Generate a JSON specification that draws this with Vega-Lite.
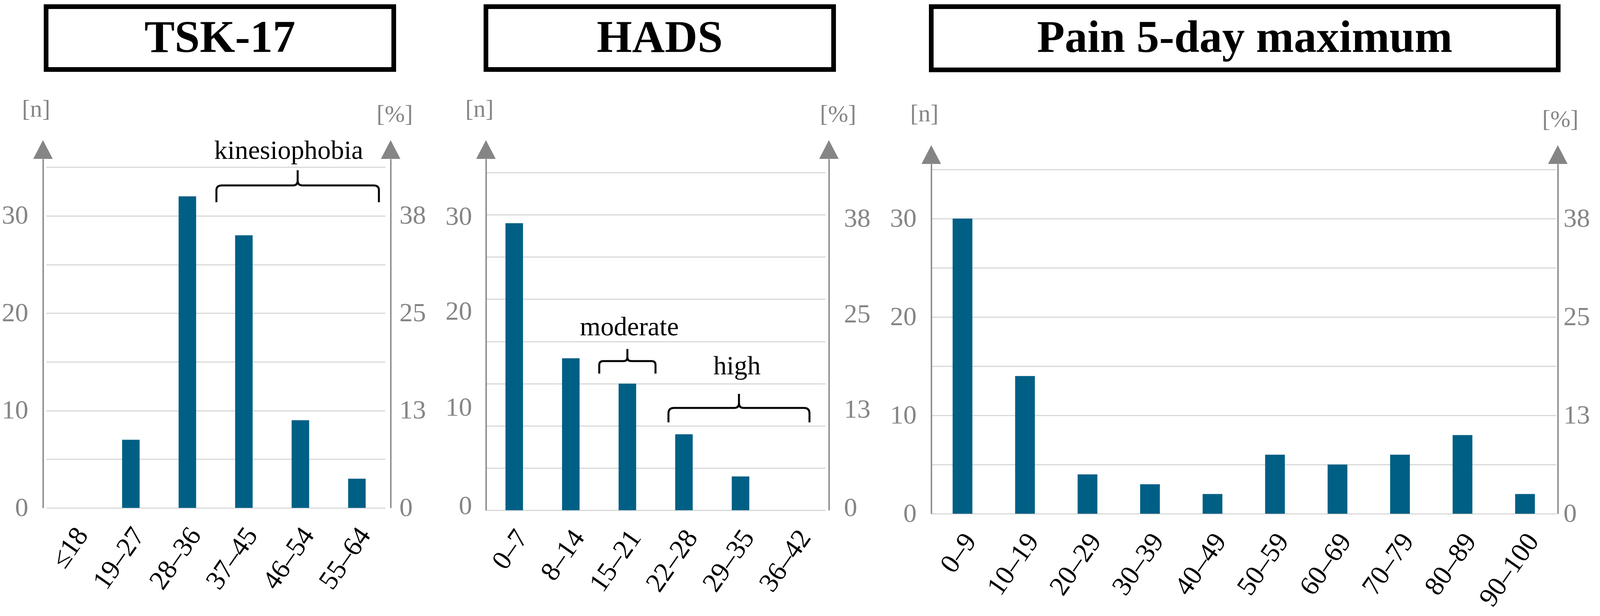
{
  "$schema": "https://vega.github.io/schema/vega-lite/v6.json",
  "padding": {"left": 4, "top": 11, "right": 0, "bottom": 5},
  "background": "white",
  "config": {
    "font": "Liberation Serif",
    "view": {"stroke": null}
  },
  "datasets": {
    "tsk": [
      {"range": "≤18", "n": 0},
      {"range": "19–27", "n": 7},
      {"range": "28–36", "n": 32},
      {"range": "37–45", "n": 28},
      {"range": "46–54", "n": 9},
      {"range": "55–64", "n": 3}
    ],
    "hads": [
      {"range": "0–7", "n": 34},
      {"range": "8–14", "n": 18},
      {"range": "15–21", "n": 15},
      {"range": "22–28", "n": 9},
      {"range": "29–35", "n": 4},
      {"range": "36–42", "n": 0}
    ],
    "pain": [
      {"range": "0–9", "n": 30},
      {"range": "10–19", "n": 14},
      {"range": "20–29", "n": 4},
      {"range": "30–39", "n": 3},
      {"range": "40–49", "n": 2},
      {"range": "50–59", "n": 6},
      {"range": "60–69", "n": 5},
      {"range": "70–79", "n": 6},
      {"range": "80–89", "n": 8},
      {"range": "90–100", "n": 2}
    ]
  },
  "spacing": 50,
  "hconcat": [
    {
      "spacing": 64,
      "vconcat": [
        {
          "width": 890, "height": 161,
          "view": {"stroke": "#000000", "strokeWidth": 12, "fill": "#ffffff"},
          "data": {"values": [{"t": "TSK-17"}]},
          "mark": {"type": "text", "fontSize": 116, "fontWeight": "bold", "color": "#000000", "baseline": "middle"},
          "encoding": {"text": {"field": "t"}}
        },
        {
          "width": 868, "height": 894,
          "data": {"name": "tsk"},
          "layer": [
            {
              "mark": {"type": "bar", "color": "#005F85"},
              "encoding": {
                "x": {"field": "range", "type": "nominal", "sort": null,
                  "scale": {"domain": ["≤18", "19–27", "28–36", "37–45", "46–54", "55–64"], "paddingInner": 0.69, "paddingOuter": 0.345},
                  "axis": null},
                "y": {"field": "n", "type": "quantitative", "scale": {"domain": [0, 35.85], "nice": false},
                  "axis": {"orient": "left", "offset": 8, "values": [0, 10, 20, 30], "grid": false, "ticks": false, "domain": true, "domainColor": "#858585", "domainWidth": 3.5, "labelFontSize": 68, "labelColor": "#858585", "labelPadding": 38, "title": "[n]", "titleAngle": 0, "titleX": -18, "titleY": -128, "titleAlign": "center", "titleBaseline": "middle", "titleFontSize": 62, "titleFontWeight": "normal", "titleColor": "#858585"}}
              }
            },
            {
              "mark": {"type": "text", "angle": 305, "align": "right", "baseline": "middle", "fontSize": 70, "color": "#000000", "dx": -36, "dy": 50},
              "encoding": {
                "x": {"field": "range", "type": "nominal", "sort": null, "scale": {"domain": ["≤18", "19–27", "28–36", "37–45", "46–54", "55–64"], "paddingInner": 0.69, "paddingOuter": 0.345}, "axis": null},
                "y": {"datum": 0, "type": "quantitative", "scale": {"domain": [0, 35.85], "nice": false}, "axis": null},
                "text": {"field": "range"}
              }
            },
            {
              "data": {"values": [{}]},
              "mark": {"type": "point", "shape": "M-1,0L1,0L0,-1.92Z", "size": 2500, "filled": true, "color": "#858585", "opacity": 1},
              "encoding": {
                "x": {"datum": "≤18", "type": "nominal", "bandPosition": -1.291, "scale": {"domain": ["≤18", "19–27", "28–36", "37–45", "46–54", "55–64"], "paddingInner": 0.69, "paddingOuter": 0.345}, "axis": null},
                "y": {"datum": 35.85, "type": "quantitative", "scale": {"domain": [0, 35.85], "nice": false},
                  "axis": {"orient": "left", "values": [0, 5, 10, 15, 20, 25, 30, 35], "grid": true, "gridColor": "#D9D9D9", "gridWidth": 3, "ticks": false, "labels": false, "domain": false, "title": null}}
              }
            },
            {
              "data": {"values": [{}]},
              "mark": {"type": "point", "shape": "M-1,0L1,0L0,-1.92Z", "size": 2500, "filled": true, "color": "#858585", "opacity": 1},
              "encoding": {
                "x": {"datum": "55–64", "type": "nominal", "bandPosition": 2.425, "scale": {"domain": ["≤18", "19–27", "28–36", "37–45", "46–54", "55–64"], "paddingInner": 0.69, "paddingOuter": 0.345}, "axis": null},
                "y": {"datum": 35.85, "type": "quantitative", "scale": {"domain": [0, 35.85], "nice": false},
                  "axis": {"orient": "right", "offset": 14, "values": [0, 10, 20, 30], "labelExpr": "datum.value == 10 ? '13' : datum.value == 20 ? '25' : datum.value == 30 ? '38' : '0'", "grid": false, "ticks": false, "domain": true, "domainColor": "#858585", "domainWidth": 3.5, "labelFontSize": 68, "labelColor": "#858585", "labelPadding": 22, "title": "[%]", "titleAngle": 0, "titleX": 10, "titleY": -115, "titleAlign": "center", "titleBaseline": "middle", "titleFontSize": 62, "titleFontWeight": "normal", "titleColor": "#858585"}}
              }
            },
            {
              "data": {"values": [{"label": "kinesiophobia"}]},
              "mark": {"type": "text", "fontSize": 68, "color": "#000000", "baseline": "alphabetic", "dx": -30},
              "encoding": {
                "x": {"datum": "46–54", "type": "nominal", "scale": {"domain": ["≤18", "19–27", "28–36", "37–45", "46–54", "55–64"], "paddingInner": 0.69, "paddingOuter": 0.345}, "axis": null},
                "y": {"datum": 35.85, "type": "quantitative", "scale": {"domain": [0, 35.85], "nice": false}, "axis": null},
                "text": {"field": "label"}
              }
            },
            {
              "data": {"values": [{}]},
              "mark": {"type": "point", "shape": "M-1,0.2067L-1,0.0577Q-1,0,-0.9327,0L-0.0577,0Q0,0,0,-0.0577L0,-0.1875M0,-0.0577Q0,0,0.0577,0L0.9327,0Q1,0,1,0.0577L1,0.2067", "size": 173056, "filled": false, "color": "#000000", "strokeWidth": 5, "opacity": 1},
              "encoding": {
                "x": {"datum": "46–54", "type": "nominal", "bandPosition": 0.344, "scale": {"domain": ["≤18", "19–27", "28–36", "37–45", "46–54", "55–64"], "paddingInner": 0.69, "paddingOuter": 0.345}, "axis": null},
                "y": {"datum": 33.12, "type": "quantitative", "scale": {"domain": [0, 35.85], "nice": false}, "axis": null}
              }
            }
          ],
          "resolve": {"axis": {"y": "independent"}}
        }
      ]
    },
    {
      "spacing": 64,
      "vconcat": [
        {
          "width": 890, "height": 161,
          "view": {"stroke": "#000000", "strokeWidth": 12, "fill": "#ffffff"},
          "data": {"values": [{"t": "HADS"}]},
          "mark": {"type": "text", "fontSize": 116, "fontWeight": "bold", "color": "#000000", "baseline": "middle"},
          "encoding": {"text": {"field": "t"}}
        },
        {
          "width": 869, "height": 900,
          "data": {"name": "hads"},
          "layer": [
            {
              "mark": {"type": "bar", "color": "#005F85"},
              "encoding": {
                "x": {"field": "range", "type": "nominal", "sort": null,
                  "scale": {"domain": ["0–7", "8–14", "15–21", "22–28", "29–35", "36–42"], "paddingInner": 0.69, "paddingOuter": 0.345},
                  "axis": null},
                "y": {"field": "n", "type": "quantitative", "scale": {"domain": [0, 41.62], "nice": false},
                  "axis": {"orient": "left", "values": [0.5, 12.15, 23.5, 34.75], "labelExpr": "datum.value < 1 ? '0' : datum.value < 13 ? '10' : datum.value < 24 ? '20' : '30'", "grid": false, "ticks": false, "domain": true, "domainColor": "#858585", "domainWidth": 3.5, "labelFontSize": 68, "labelColor": "#858585", "labelPadding": 36, "title": "[n]", "titleAngle": 0, "titleX": -17, "titleY": -128, "titleAlign": "center", "titleBaseline": "middle", "titleFontSize": 62, "titleFontWeight": "normal", "titleColor": "#858585"}}
              }
            },
            {
              "mark": {"type": "text", "angle": 305, "align": "right", "baseline": "middle", "fontSize": 70, "color": "#000000", "dx": -36, "dy": 50},
              "encoding": {
                "x": {"field": "range", "type": "nominal", "sort": null, "scale": {"domain": ["0–7", "8–14", "15–21", "22–28", "29–35", "36–42"], "paddingInner": 0.69, "paddingOuter": 0.345}, "axis": null},
                "y": {"datum": 0, "type": "quantitative", "scale": {"domain": [0, 41.62], "nice": false}, "axis": null},
                "text": {"field": "range"}
              }
            },
            {
              "data": {"values": [{}]},
              "mark": {"type": "point", "shape": "M-1,0L1,0L0,-1.92Z", "size": 2500, "filled": true, "color": "#858585", "opacity": 1},
              "encoding": {
                "x": {"datum": "0–7", "type": "nominal", "bandPosition": -1.1129, "scale": {"domain": ["0–7", "8–14", "15–21", "22–28", "29–35", "36–42"], "paddingInner": 0.69, "paddingOuter": 0.345}, "axis": null},
                "y": {"datum": 41.62, "type": "quantitative", "scale": {"domain": [0, 41.62], "nice": false},
                  "axis": {"orient": "left", "values": [0, 5, 10, 15, 20, 25, 30, 35, 40], "grid": true, "gridColor": "#D9D9D9", "gridWidth": 3, "ticks": false, "labels": false, "domain": false, "title": null}}
              }
            },
            {
              "data": {"values": [{}]},
              "mark": {"type": "point", "shape": "M-1,0L1,0L0,-1.92Z", "size": 2500, "filled": true, "color": "#858585", "opacity": 1},
              "encoding": {
                "x": {"datum": "36–42", "type": "nominal", "bandPosition": 2.313, "scale": {"domain": ["0–7", "8–14", "15–21", "22–28", "29–35", "36–42"], "paddingInner": 0.69, "paddingOuter": 0.345}, "axis": null},
                "y": {"datum": 41.62, "type": "quantitative", "scale": {"domain": [0, 41.62], "nice": false},
                  "axis": {"orient": "right", "offset": 9, "values": [0.25, 11.9, 23.2, 34.5], "labelExpr": "datum.value < 1 ? '0' : datum.value < 13 ? '13' : datum.value < 24 ? '25' : '38'", "grid": false, "ticks": false, "domain": true, "domainColor": "#858585", "domainWidth": 3.5, "labelFontSize": 68, "labelColor": "#858585", "labelPadding": 38, "title": "[%]", "titleAngle": 0, "titleX": 23, "titleY": -115, "titleAlign": "center", "titleBaseline": "middle", "titleFontSize": 62, "titleFontWeight": "normal", "titleColor": "#858585"}}
              }
            },
            {
              "data": {"values": [{"label": "moderate"}]},
              "mark": {"type": "text", "fontSize": 68, "color": "#000000", "baseline": "alphabetic", "dx": 5},
              "encoding": {
                "x": {"datum": "15–21", "type": "nominal", "scale": {"domain": ["0–7", "8–14", "15–21", "22–28", "29–35", "36–42"], "paddingInner": 0.69, "paddingOuter": 0.345}, "axis": null},
                "y": {"datum": 20.72, "type": "quantitative", "scale": {"domain": [0, 41.62], "nice": false}, "axis": null},
                "text": {"field": "label"}
              }
            },
            {
              "data": {"values": [{"label": "high"}]},
              "mark": {"type": "text", "fontSize": 68, "color": "#000000", "baseline": "alphabetic", "dx": -9},
              "encoding": {
                "x": {"datum": "29–35", "type": "nominal", "scale": {"domain": ["0–7", "8–14", "15–21", "22–28", "29–35", "36–42"], "paddingInner": 0.69, "paddingOuter": 0.345}, "axis": null},
                "y": {"datum": 16.09, "type": "quantitative", "scale": {"domain": [0, 41.62], "nice": false}, "axis": null},
                "text": {"field": "label"}
              }
            },
            {
              "data": {"values": [{}]},
              "mark": {"type": "point", "shape": "M-1,0.4444L-1,0.1389Q-1,0,-0.8611,0L-0.1389,0Q0,0,0,-0.1389L0,-0.4306M0,-0.1389Q0,0,0.1389,0L0.8611,0Q1,0,1,0.1389L1,0.4444", "size": 20736, "filled": false, "color": "#000000", "strokeWidth": 5, "opacity": 1},
              "encoding": {
                "x": {"datum": "15–21", "type": "nominal", "scale": {"domain": ["0–7", "8–14", "15–21", "22–28", "29–35", "36–42"], "paddingInner": 0.69, "paddingOuter": 0.345}, "axis": null},
                "y": {"datum": 17.66, "type": "quantitative", "scale": {"domain": [0, 41.62], "nice": false}, "axis": null}
              }
            },
            {
              "data": {"values": [{}]},
              "mark": {"type": "point", "shape": "M-1,0.205L-1,0.0776Q-1,0,-0.9224,0L-0.0665,0Q0,0,0,-0.0665L0,-0.1994M0,-0.0665Q0,0,0.0665,0L0.9224,0Q1,0,1,0.0776L1,0.205", "size": 130321, "filled": false, "color": "#000000", "strokeWidth": 5, "opacity": 1},
              "encoding": {
                "x": {"datum": "29–35", "type": "nominal", "bandPosition": 0.411, "scale": {"domain": ["0–7", "8–14", "15–21", "22–28", "29–35", "36–42"], "paddingInner": 0.69, "paddingOuter": 0.345}, "axis": null},
                "y": {"datum": 12.12, "type": "quantitative", "scale": {"domain": [0, 41.62], "nice": false}, "axis": null}
              }
            }
          ],
          "resolve": {"axis": {"y": "independent"}}
        }
      ]
    },
    {
      "spacing": 75,
      "vconcat": [
        {
          "width": 1605, "height": 162,
          "view": {"stroke": "#000000", "strokeWidth": 12, "fill": "#ffffff"},
          "data": {"values": [{"t": "Pain 5-day maximum"}]},
          "mark": {"type": "text", "fontSize": 116, "fontWeight": "bold", "color": "#000000", "baseline": "middle"},
          "encoding": {"text": {"field": "t"}}
        },
        {
          "width": 1600, "height": 896,
          "data": {"name": "pain"},
          "layer": [
            {
              "mark": {"type": "bar", "color": "#005F85"},
              "encoding": {
                "x": {"field": "range", "type": "nominal", "sort": null,
                  "scale": {"domain": ["0–9", "10–19", "20–29", "30–39", "40–49", "50–59", "60–69", "70–79", "80–89", "90–100"], "paddingInner": 0.684, "paddingOuter": 0.342},
                  "axis": null},
                "y": {"field": "n", "type": "quantitative", "scale": {"domain": [0, 35.56], "nice": false},
                  "axis": {"orient": "left", "values": [0, 10, 20, 30], "grid": false, "ticks": false, "domain": true, "domainColor": "#858585", "domainWidth": 3.5, "labelFontSize": 68, "labelColor": "#858585", "labelPadding": 38, "title": "[n]", "titleAngle": 0, "titleX": -18, "titleY": -129, "titleAlign": "center", "titleBaseline": "middle", "titleFontSize": 62, "titleFontWeight": "normal", "titleColor": "#858585"}}
              }
            },
            {
              "mark": {"type": "text", "angle": 305, "align": "right", "baseline": "middle", "fontSize": 70, "color": "#000000", "dx": -36, "dy": 50},
              "encoding": {
                "x": {"field": "range", "type": "nominal", "sort": null, "scale": {"domain": ["0–9", "10–19", "20–29", "30–39", "40–49", "50–59", "60–69", "70–79", "80–89", "90–100"], "paddingInner": 0.684, "paddingOuter": 0.342}, "axis": null},
                "y": {"datum": 0, "type": "quantitative", "scale": {"domain": [0, 35.56], "nice": false}, "axis": null},
                "text": {"field": "range"}
              }
            },
            {
              "data": {"values": [{}]},
              "mark": {"type": "point", "shape": "M-1,0L1,0L0,-1.92Z", "size": 2500, "filled": true, "color": "#858585", "opacity": 1},
              "encoding": {
                "x": {"datum": "0–9", "type": "nominal", "bandPosition": -1.0818, "scale": {"domain": ["0–9", "10–19", "20–29", "30–39", "40–49", "50–59", "60–69", "70–79", "80–89", "90–100"], "paddingInner": 0.684, "paddingOuter": 0.342}, "axis": null},
                "y": {"datum": 35.56, "type": "quantitative", "scale": {"domain": [0, 35.56], "nice": false},
                  "axis": {"orient": "left", "values": [0, 5, 10, 15, 20, 25, 30, 35], "grid": true, "gridColor": "#D9D9D9", "gridWidth": 3, "ticks": false, "labels": false, "domain": false, "title": null}}
              }
            },
            {
              "data": {"values": [{}]},
              "mark": {"type": "point", "shape": "M-1,0L1,0L0,-1.92Z", "size": 2500, "filled": true, "color": "#858585", "opacity": 1},
              "encoding": {
                "x": {"datum": "90–100", "type": "nominal", "bandPosition": 2.161, "scale": {"domain": ["0–9", "10–19", "20–29", "30–39", "40–49", "50–59", "60–69", "70–79", "80–89", "90–100"], "paddingInner": 0.684, "paddingOuter": 0.342}, "axis": null},
                "y": {"datum": 35.56, "type": "quantitative", "scale": {"domain": [0, 35.56], "nice": false},
                  "axis": {"orient": "right", "offset": 4, "values": [0, 10, 20, 30], "labelExpr": "datum.value == 10 ? '13' : datum.value == 20 ? '25' : datum.value == 30 ? '38' : '0'", "grid": false, "ticks": false, "domain": true, "domainColor": "#858585", "domainWidth": 3.5, "labelFontSize": 68, "labelColor": "#858585", "labelPadding": 14, "title": "[%]", "titleAngle": 0, "titleX": 6, "titleY": -115, "titleAlign": "center", "titleBaseline": "middle", "titleFontSize": 62, "titleFontWeight": "normal", "titleColor": "#858585"}}
              }
            }
          ],
          "resolve": {"axis": {"y": "independent"}}
        }
      ]
    }
  ]
}
